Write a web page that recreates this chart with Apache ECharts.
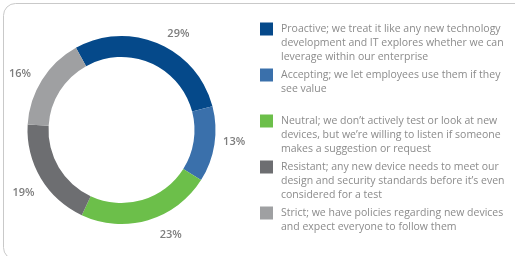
<!DOCTYPE html>
<html>
<head>
<meta charset="utf-8">
<style>
html,body{margin:0;padding:0;background:#fff;}
#chart{width:515px;height:256px;}
</style>
<script src="https://cdn.jsdelivr.net/npm/echarts@6/dist/echarts.min.js"></script>
</head>
<body>
<div id="chart"></div>
<script>
// Categories (legend text, with original line breaks)
const categories = [
  "Proactive; we treat it like any new technology\ndevelopment and IT explores whether we can\nleverage within our enterprise",
  "Accepting; we let employees use them if they\nsee value\n",
  "Neutral; we don\u2019t actively test or look at new\ndevices, but we\u2019re willing to listen if someone\nmakes a suggestion or request",
  "Resistant; any new device needs to meet our\ndesign and security standards before it\u2019s even\nconsidered for a test",
  "Strict; we have policies regarding new devices\nand expect everyone to follow them"
];
// Percent values
const values = [29, 13, 23, 19, 16];
const colors = ["#05498a", "#3a70ab", "#6cbf4a", "#6d6e71", "#9fa0a2"];
// small nudges of the percentage labels (style only)
const labelNudge = [[12, 9], [0, -6], [17, -5], [0, 4], [-5, 5]];

const chart = echarts.init(document.getElementById('chart'), null, {renderer: 'canvas'});

const data = categories.map((c, i) => ({name: c, value: values[i], itemStyle: {color: colors[i]}}));

const rich = {
  t: {color: '#8b8b8b', fontSize: 10.5, fontFamily: 'Open Sans', lineHeight: 14},
  g: {width: 8, height: 13, lineHeight: 14},
  sp: {width: 21, height: 13, lineHeight: 14}
};
colors.forEach((c, i) => {
  rich['sq' + i] = {width: 13, height: 13, backgroundColor: c, lineHeight: 14};
});

chart.setOption({
  animation: false,
  graphic: [{
    type: 'rect',
    shape: {x: 3.5, y: 3.5, width: 560, height: 256, r: 12},
    style: {fill: 'none', stroke: '#c9c9c9', lineWidth: 1},
    z: -1
  }],
  legend: {
    orient: 'vertical',
    left: 255,
    top: 22.5,
    padding: 0,
    itemGap: 5,
    itemWidth: 0,
    itemHeight: 0,
    selectedMode: false,
    data: categories,
    formatter: function (name) {
      const i = categories.indexOf(name);
      const lines = name.split('\n');
      return lines.map((l, k) => (k === 0 ? '{sq' + i + '|}{g|}' : '{sp|}') + (l ? '{t|' + l + '}' : '')).join('\n');
    },
    textStyle: {rich: rich}
  },
  series: [{
    type: 'pie',
    center: [121.5, 130],
    radius: [73, 94],
    startAngle: 119,
    clockwise: true,
    silent: true,
    label: {show: false},
    labelLine: {show: false},
    data: data
  }, {
    type: 'pie',
    center: [121.5, 130],
    radius: [100, 122],
    startAngle: 119,
    clockwise: true,
    silent: true,
    legendHoverLink: false,
    itemStyle: {color: 'rgba(0,0,0,0)'},
    label: {
      show: true,
      position: 'inside',
      formatter: '{c}%',
      color: '#7d7d7d',
      fontSize: 11,
      fontWeight: 600,
      fontFamily: 'Open Sans'
    },
    labelLine: {show: false},
    data: values.map((v, i) => ({name: 'lbl' + i, value: v, label: {offset: labelNudge[i]}}))
  }]
});
</script>
</body>
</html>
